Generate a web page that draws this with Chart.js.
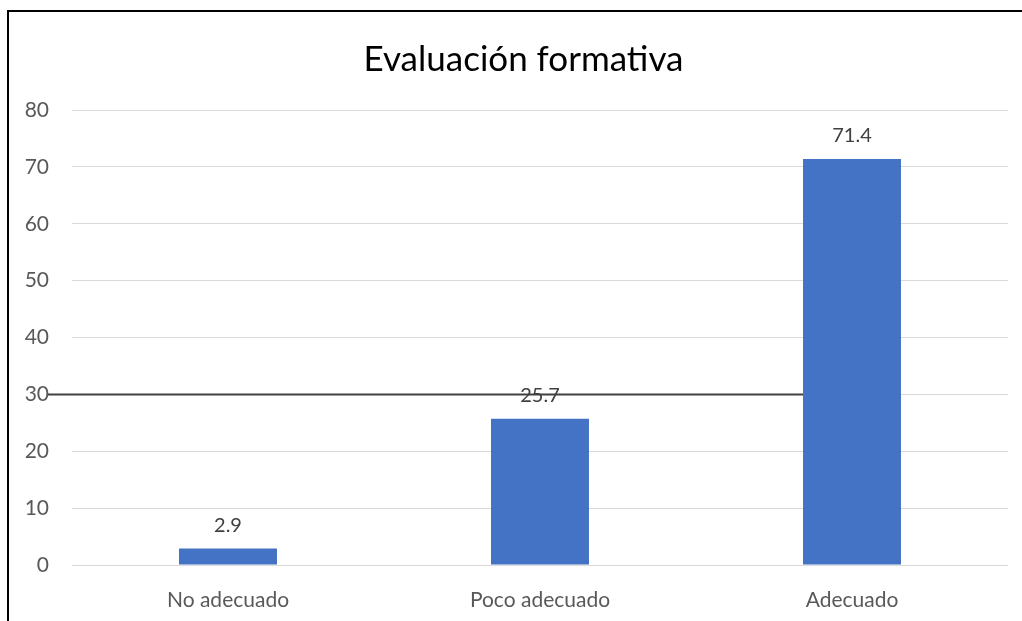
<!DOCTYPE html>
<html>
<head>
<meta charset="utf-8">
<script src="https://cdn.jsdelivr.net/npm/chart.js@4"></script>
<style>
  body { margin: 0; background: #fff; overflow: hidden; }
  #box { position: absolute; left: 7px; top: 10px; width: 1040px; height: 640px; border: 2px solid #000; background: #fff; }
  #myChart { display: block; }
</style>
</head>
<body>
<div id="box"><canvas id="myChart" width="1013" height="609"></canvas></div>
<script>
const labels = ['No adecuado', 'Poco adecuado', 'Adecuado'];
const points = [2.9, 25.7, 71.4];
const yTicks = [0, 10, 20, 30, 40, 50, 60, 70, 80];
const lineValue = 30;
const color = '#4472C4';

// value labels above each bar
const barLabels = {
  id: 'barLabels',
  afterLayout(chart) {
    // title sits a bit right of the canvas centre in the original
    chart.titleBlock.left += 30;
  },
  afterDatasetsDraw(chart) {
    const c = chart.ctx;
    const meta = chart.getDatasetMeta(0);
    c.save();
    c.font = '20px Lato';
    c.fillStyle = '#404040';
    c.textAlign = 'center';
    c.textBaseline = 'middle';
    meta.data.forEach((bar, i) => {
      c.fillText(points[i].toFixed(1), bar.x, bar.y - 23);
    });
    c.restore();
  }
};

// the dark line across at 30, behind the bars
const refLine = {
  id: 'refLine',
  beforeDatasetsDraw(chart) {
    const c = chart.ctx;
    const y = chart.scales.y.getPixelForValue(lineValue);
    const last = chart.getDatasetMeta(0).data[2];
    c.save();
    c.strokeStyle = '#404040';
    c.lineWidth = 2;
    c.beginPath();
    c.moveTo(39, y);
    c.lineTo(last.x - last.width / 2, y);
    c.stroke();
    c.restore();
  }
};

let ctx = document.querySelector('#myChart');

let grafico = new Chart(ctx, {
  type: 'bar',
  data: {
    labels: labels,
    datasets: [{
      data: points,
      backgroundColor: color,
      borderWidth: 0,
      categoryPercentage: 1,
      barPercentage: 0.314,
    }],
  },
  options: {
    responsive: false,
    animation: false,
    layout: { padding: { top: 0, right: 14, bottom: 0, left: 0 } },
    plugins: {
      legend: { display: false },
      tooltip: { enabled: false },
      title: {
        display: true,
        text: 'Evaluación formativa',
        color: '#000',
        font: { family: 'Lato', size: 35, weight: 'normal', lineHeight: 1.2 },
        padding: { top: 27, bottom: 29 },
      },
    },
    scales: {
      x: {
        afterFit(scale) { scale.height = 56; },
        grid: { display: false },
        border: { display: false },
        ticks: { color: '#595959', font: { family: 'Lato', size: 21 }, padding: 15, maxRotation: 0 },
      },
      y: {
        min: 0,
        max: 80,
        afterFit(scale) { scale.width = 63; },
        afterBuildTicks(scale) { scale.ticks = yTicks.map(v => ({ value: v })); },
        grid: { color: '#D9D9D9', lineWidth: 1, drawTicks: false },
        border: { display: false },
        ticks: { color: '#595959', font: { family: 'Lato', size: 21 }, padding: 23 },
      },
    },
  },
  plugins: [refLine, barLabels],
});
</script>
</body>
</html>
